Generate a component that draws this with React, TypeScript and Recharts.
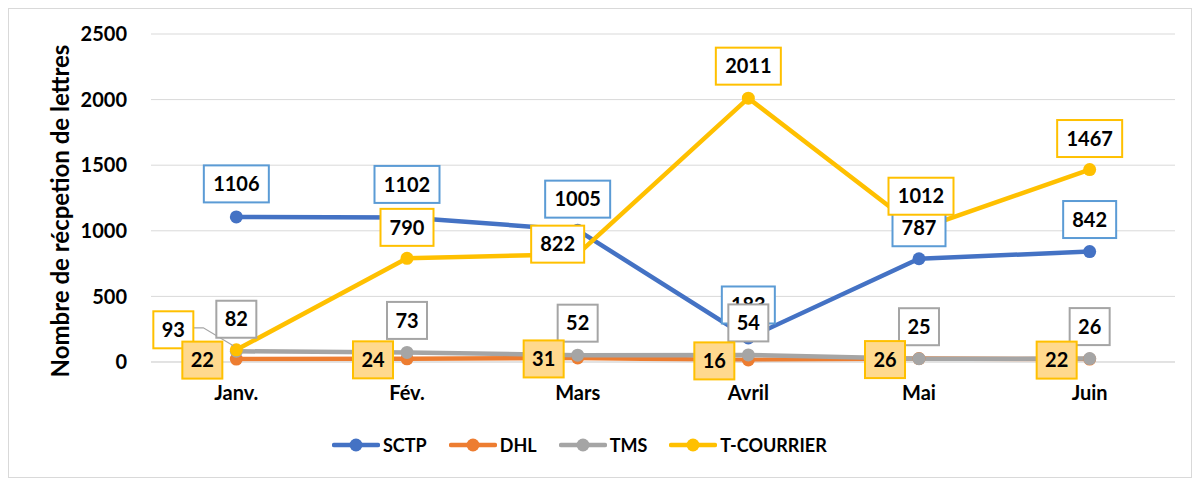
import React from 'react';
import { LineChart, Line, XAxis, YAxis, CartesianGrid, Legend } from 'recharts';

const months = ['Janv.', 'Fév.', 'Mars', 'Avril', 'Mai', 'Juin'];
const sctp = [1106, 1102, 1005, 183, 787, 842];
const dhl = [22, 24, 31, 16, 26, 22];
const tms = [82, 73, 52, 54, 25, 26];
const tCourrier = [93, 790, 822, 2011, 1012, 1467];
const yTicks = [0, 500, 1000, 1500, 2000, 2500];
const yTitle = 'Nombre de récpetion de lettres';

const data = months.map((m, i) => ({
  month: m,
  sctp: sctp[i],
  dhl: dhl[i],
  tms: tms[i],
  tc: tCourrier[i],
}));

// label placement (box centre offset from the point), kept apart from data
const sctpOff = [[0, -33], [0, -33], [0, -31], [0, -33], [0, -31], [0, -32]];
const dhlOff = [[-34, 1], [-34, 1], [-34, 1], [-34, 1], [-34, 1], [-33, 1]];
const tmsOff = [[0, -32], [0, -32], [0, -32], [0, -32], [0, -32], [0, -32]];
const tcOff = [[-63, -20], [0, -31], [-20, -10], [0, -32], [2, -33], [0, -31]];

const FONT = 'Lato, "Open Sans", sans-serif';

const series = [
  { key: 'sctp', name: 'SCTP', color: '#4472C4' },
  { key: 'dhl', name: 'DHL', color: '#ED7D31' },
  { key: 'tms', name: 'TMS', color: '#A5A5A5' },
  { key: 'tc', name: 'T-COURRIER', color: '#FFC000' },
];

const boxW = (v: any) => {
  const n = String(v).length;
  return n <= 2 ? 40 : n === 3 ? 53 : 65;
};

const makeLabel = (offs: number[][], stroke: string, fill: string, leader?: boolean) => (props: any) => {
  const { x, y, value, index } = props;
  if (x == null || y == null) return null;
  const off = offs[index] || [0, -32];
  const cx = x + off[0];
  const cy = y + off[1];
  const w = boxW(value);
  const h = 37;
  return (
    <g key={`lbl-${index}`}>
      {leader && index === 0 ? (
        <polyline
          points={`${cx + w / 2},${cy - 2} ${cx + w / 2 + 10},${cy - 2} ${x - 3},${y - 4}`}
          fill="none"
          stroke="#A5A5A5"
          strokeWidth={1.2}
        />
      ) : null}
      <rect x={cx - w / 2} y={cy - h / 2} width={w} height={h} fill={fill} stroke={stroke} strokeWidth={2} />
      <text
        x={cx}
        y={cy}
        dy="0.36em"
        textAnchor="middle"
        fontFamily={FONT}
        fontWeight={700}
        fontSize={20}
        fill="#000"
      >
        {value}
      </text>
    </g>
  );
};

const renderLegend = () => (
  <div
    style={{
      display: 'flex',
      alignItems: 'center',
      paddingLeft: 323,
      fontFamily: FONT,
      fontWeight: 700,
      fontSize: 18,
      color: '#000',
    }}
  >
    {series.map((s) => (
      <div key={s.key} style={{ display: 'flex', alignItems: 'center', marginRight: 22 }}>
        <svg width={48} height={16} style={{ display: 'block' }}>
          <line x1={2} y1={8} x2={46} y2={8} stroke={s.color} strokeWidth={4.5} strokeLinecap="round" />
          <circle cx={24} cy={8} r={6.5} fill={s.color} />
        </svg>
        <span style={{ marginLeft: 3, lineHeight: '24px' }}>{s.name}</span>
      </div>
    ))}
  </div>
);

const YTitle = (props: any) => {
  return (
    <text
      x={50}
      y={202}
      transform="rotate(-90, 50, 202)"
      textAnchor="middle"
      dominantBaseline="central"
      fontFamily={FONT}
      fontWeight={700}
      fontSize={24}
      fill="#000"
    >
      {yTitle}
    </text>
  );
};

export default function App() {
  return (
    <div
      style={{
        width: 1182,
        height: 468,
        border: '1px solid #D9D9D9',
        background: '#fff',
      }}
    >
      <LineChart
        width={1182}
        height={468}
        data={data}
        margin={{ top: 25, right: 16, bottom: 85, left: 0 }}
      >
        <CartesianGrid vertical={false} stroke="#D9D9D9" strokeWidth={1} />
        <XAxis
          dataKey="month"
          scale="band"
          axisLine={{ stroke: '#D9D9D9', strokeWidth: 1 }}
          tickLine={false}
          tickSize={0}
          tickMargin={24}
          interval={0}
          tick={{ fontFamily: FONT, fontWeight: 700, fontSize: 20, fill: '#000' }}
        />
        <YAxis
          width={142}
          domain={[0, 2500]}
          ticks={yTicks}
          axisLine={false}
          tickLine={false}
          tickSize={0}
          tickMargin={24}
          tick={{ fontFamily: FONT, fontWeight: 700, fontSize: 20, fill: '#000' }}
          label={<YTitle />}
        />
        <Legend
          layout="horizontal"
          verticalAlign="middle"
          align="center"
          content={renderLegend}
          wrapperStyle={{ top: 424, left: 0, width: 1182 }}
        />
        {series.map((s) => (
          <Line
            key={s.key}
            dataKey={s.key}
            name={s.name}
            stroke={s.color}
            strokeWidth={4.5}
            dot={{ r: 6.5, fill: s.color, stroke: s.color, strokeWidth: 0 }}
            activeDot={false}
            isAnimationActive={false}
          />
        ))}
        <Line dataKey="sctp" stroke="none" dot={false} activeDot={false} legendType="none" isAnimationActive={false}
          label={makeLabel(sctpOff, '#5B9BD5', '#FFFFFF')} />
        <Line dataKey="tc" stroke="none" dot={false} activeDot={false} legendType="none" isAnimationActive={false}
          label={makeLabel(tcOff, '#FFC000', '#FFFFFF', true)} />
        <Line dataKey="tms" stroke="none" dot={false} activeDot={false} legendType="none" isAnimationActive={false}
          label={makeLabel(tmsOff, '#A5A5A5', '#FFFFFF')} />
        <Line dataKey="dhl" stroke="none" dot={false} activeDot={false} legendType="none" isAnimationActive={false}
          label={makeLabel(dhlOff, '#FFC000', '#FFD98E')} />
      </LineChart>
    </div>
  );
}
